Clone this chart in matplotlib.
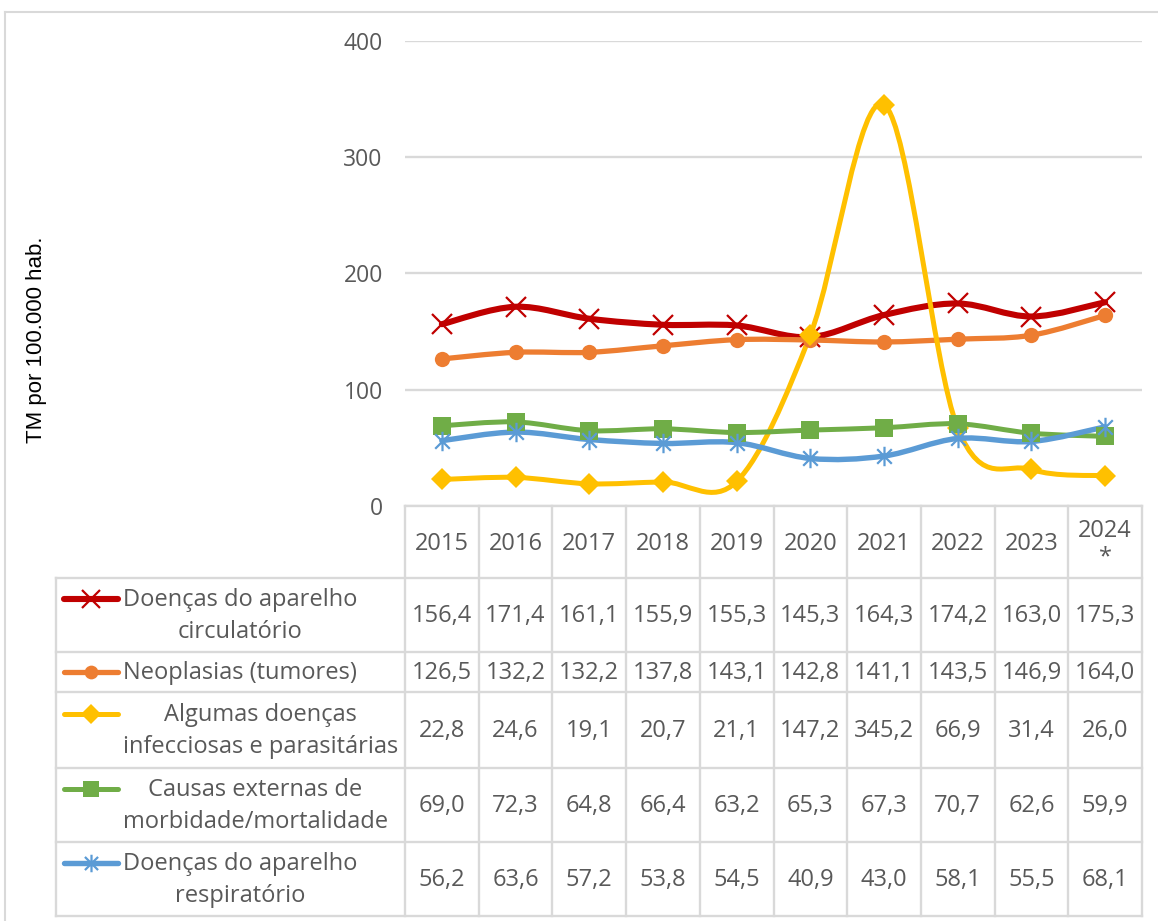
import numpy as np
import matplotlib
matplotlib.use("Agg")
import matplotlib.pyplot as plt
from matplotlib.path import Path
from matplotlib.patches import PathPatch

plt.rcParams['font.family'] = ['Open Sans', 'DejaVu Sans']

years = ["2015", "2016", "2017", "2018", "2019", "2020", "2021", "2022", "2023", "2024\n*"]
labels = ["Doenças do aparelho\ncirculatório",
          "Neoplasias (tumores)",
          "Algumas doenças\ninfecciosas e parasitárias",
          "Causas externas de\nmorbidade/mortalidade",
          "Doenças do aparelho\nrespiratório"]
circulatorio = [156.4, 171.4, 161.1, 155.9, 155.3, 145.3, 164.3, 174.2, 163.0, 175.3]
neoplasias = [126.5, 132.2, 132.2, 137.8, 143.1, 142.8, 141.1, 143.5, 146.9, 164.0]
infecciosas = [22.8, 24.6, 19.1, 20.7, 21.1, 147.2, 345.2, 66.9, 31.4, 26.0]
externas = [69.0, 72.3, 64.8, 66.4, 63.2, 65.3, 67.3, 70.7, 62.6, 59.9]
respiratorio = [56.2, 63.6, 57.2, 53.8, 54.5, 40.9, 43.0, 58.1, 55.5, 68.1]

series = [circulatorio, neoplasias, infecciosas, externas, respiratorio]
colors = ['#C00000', '#ED7D31', '#FFC000', '#70AD47', '#5B9BD5']

star = Path([(0, -1), (0, 1), (-0.75, -0.75), (0.75, 0.75), (-0.75, 0.75), (0.75, -0.75)],
            [Path.MOVETO, Path.LINETO] * 3)
styles = [dict(marker='x', ms=15, mew=1.6, lw=4.4),
          dict(marker='o', ms=11, mew=0, lw=3.8),
          dict(marker='D', ms=11, mew=0, lw=3.6),
          dict(marker='s', ms=13, mew=0, lw=3.6),
          dict(marker=star, ms=14, mew=1.6, lw=3.9)]

GRID = '#D9D9D9'
TXT = '#595959'
W, H = 1158, 921
FS = 17


def smooth_path(x, y):
    # Excel-like smoothed line: Catmull-Rom as cubic Bezier
    P = np.column_stack([x, y]).astype(float)
    n = len(P)
    verts = [P[0]]
    codes = [Path.MOVETO]
    for i in range(n - 1):
        p0 = P[i - 1] if i > 0 else P[i]
        p1, p2 = P[i], P[i + 1]
        p3 = P[i + 2] if i + 2 < n else P[i + 1]
        verts += [p1 + (p2 - p0) / 6, p2 - (p3 - p1) / 6, p2]
        codes += [Path.CURVE4] * 3
    return Path(verts, codes)


fig = plt.figure(figsize=(W / 100, H / 100), dpi=100)

# plot area in pixels
px_l, px_r, px_t, px_b = 405, 1142, 41, 506
ax = fig.add_axes([px_l / W, 1 - px_b / H, (px_r - px_l) / W, (px_b - px_t) / H])
x = np.arange(len(years))
for vals, c, st in zip(series, colors, styles):
    ax.add_patch(PathPatch(smooth_path(x, vals), fill=False, edgecolor=c, lw=st['lw'],
                           joinstyle='round', capstyle='round'))
    ax.plot(x, vals, linestyle='none', marker=st['marker'], ms=st['ms'], mew=st['mew'],
            color=c, mec=c, clip_on=False)

ax.set_xlim(-0.5, len(years) - 0.5)
ax.set_ylim(0, 400)
ax.set_yticks([0, 100, 200, 300, 400])
ax.set_xticks([])
ax.tick_params(axis='y', length=0, pad=16, labelsize=16.5, labelcolor=TXT)
ax.grid(axis='y', color=GRID, lw=1.7)
ax.set_axisbelow(True)
for s in ax.spines.values():
    s.set_visible(False)
fig.text(37 / W, 1 - 340 / H, "TM por 100.000 hab.", rotation=90, ha='center', va='center',
         fontsize=16, family='Liberation Sans', color='black')

# data table overlay in pixel coordinates
tb = fig.add_axes([0, 0, 1, 1])
tb.set_xlim(0, W)
tb.set_ylim(H, 0)
tb.axis('off')
ncol = len(years)
cw = (px_r - px_l) / ncol
col_edges = [px_l + i * cw for i in range(ncol + 1)]
row_edges = [506, 578, 652, 692, 768, 842, 916]
lab_l = 56

# outer chart border
tb.plot([5, 5], [H, 12], color=GRID, lw=1.5)
tb.plot([5, W], [12, 12], color=GRID, lw=1.5)

# horizontal lines
tb.plot([px_l, px_r], [row_edges[0]] * 2, color=GRID, lw=1.7)
for ry in row_edges[1:]:
    tb.plot([lab_l, px_r], [ry, ry], color=GRID, lw=1.7)
# vertical lines
for cx in col_edges:
    tb.plot([cx, cx], [row_edges[0], row_edges[-1]], color=GRID, lw=1.7)
tb.plot([lab_l, lab_l], [row_edges[1], row_edges[-1]], color=GRID, lw=1.7)

# header
hy = (row_edges[0] + row_edges[1]) / 2
for i, yr in enumerate(years):
    tb.text((col_edges[i] + col_edges[i + 1]) / 2, hy + 2, yr, ha='center', va='center',
            fontsize=FS, color=TXT, linespacing=1.15)

# rows
for r, (lab, vals, c, st) in enumerate(zip(labels, series, colors, styles)):
    y0, y1 = row_edges[r + 1], row_edges[r + 2]
    cy = (y0 + y1) / 2
    nl = lab.count('\n') + 1
    ky = cy - 16 * (nl - 1)
    tb.plot([64, 118], [ky, ky], color=c, lw=st['lw'], solid_capstyle='round')
    tb.plot([91], [ky], linestyle='none', marker=st['marker'], ms=st['ms'] * 0.9,
            mew=st['mew'], color=c, mec=c)
    tb.text(123, cy + 1, lab, ha='left', va='center', multialignment='center',
            fontsize=FS, color=TXT, linespacing=1.4)
    for i, v in enumerate(vals):
        tb.text((col_edges[i] + col_edges[i + 1]) / 2, cy + 1, f"{v:.1f}".replace('.', ','),
                ha='center', va='center', fontsize=FS, color=TXT)

fig.savefig("out.png", dpi=100)
